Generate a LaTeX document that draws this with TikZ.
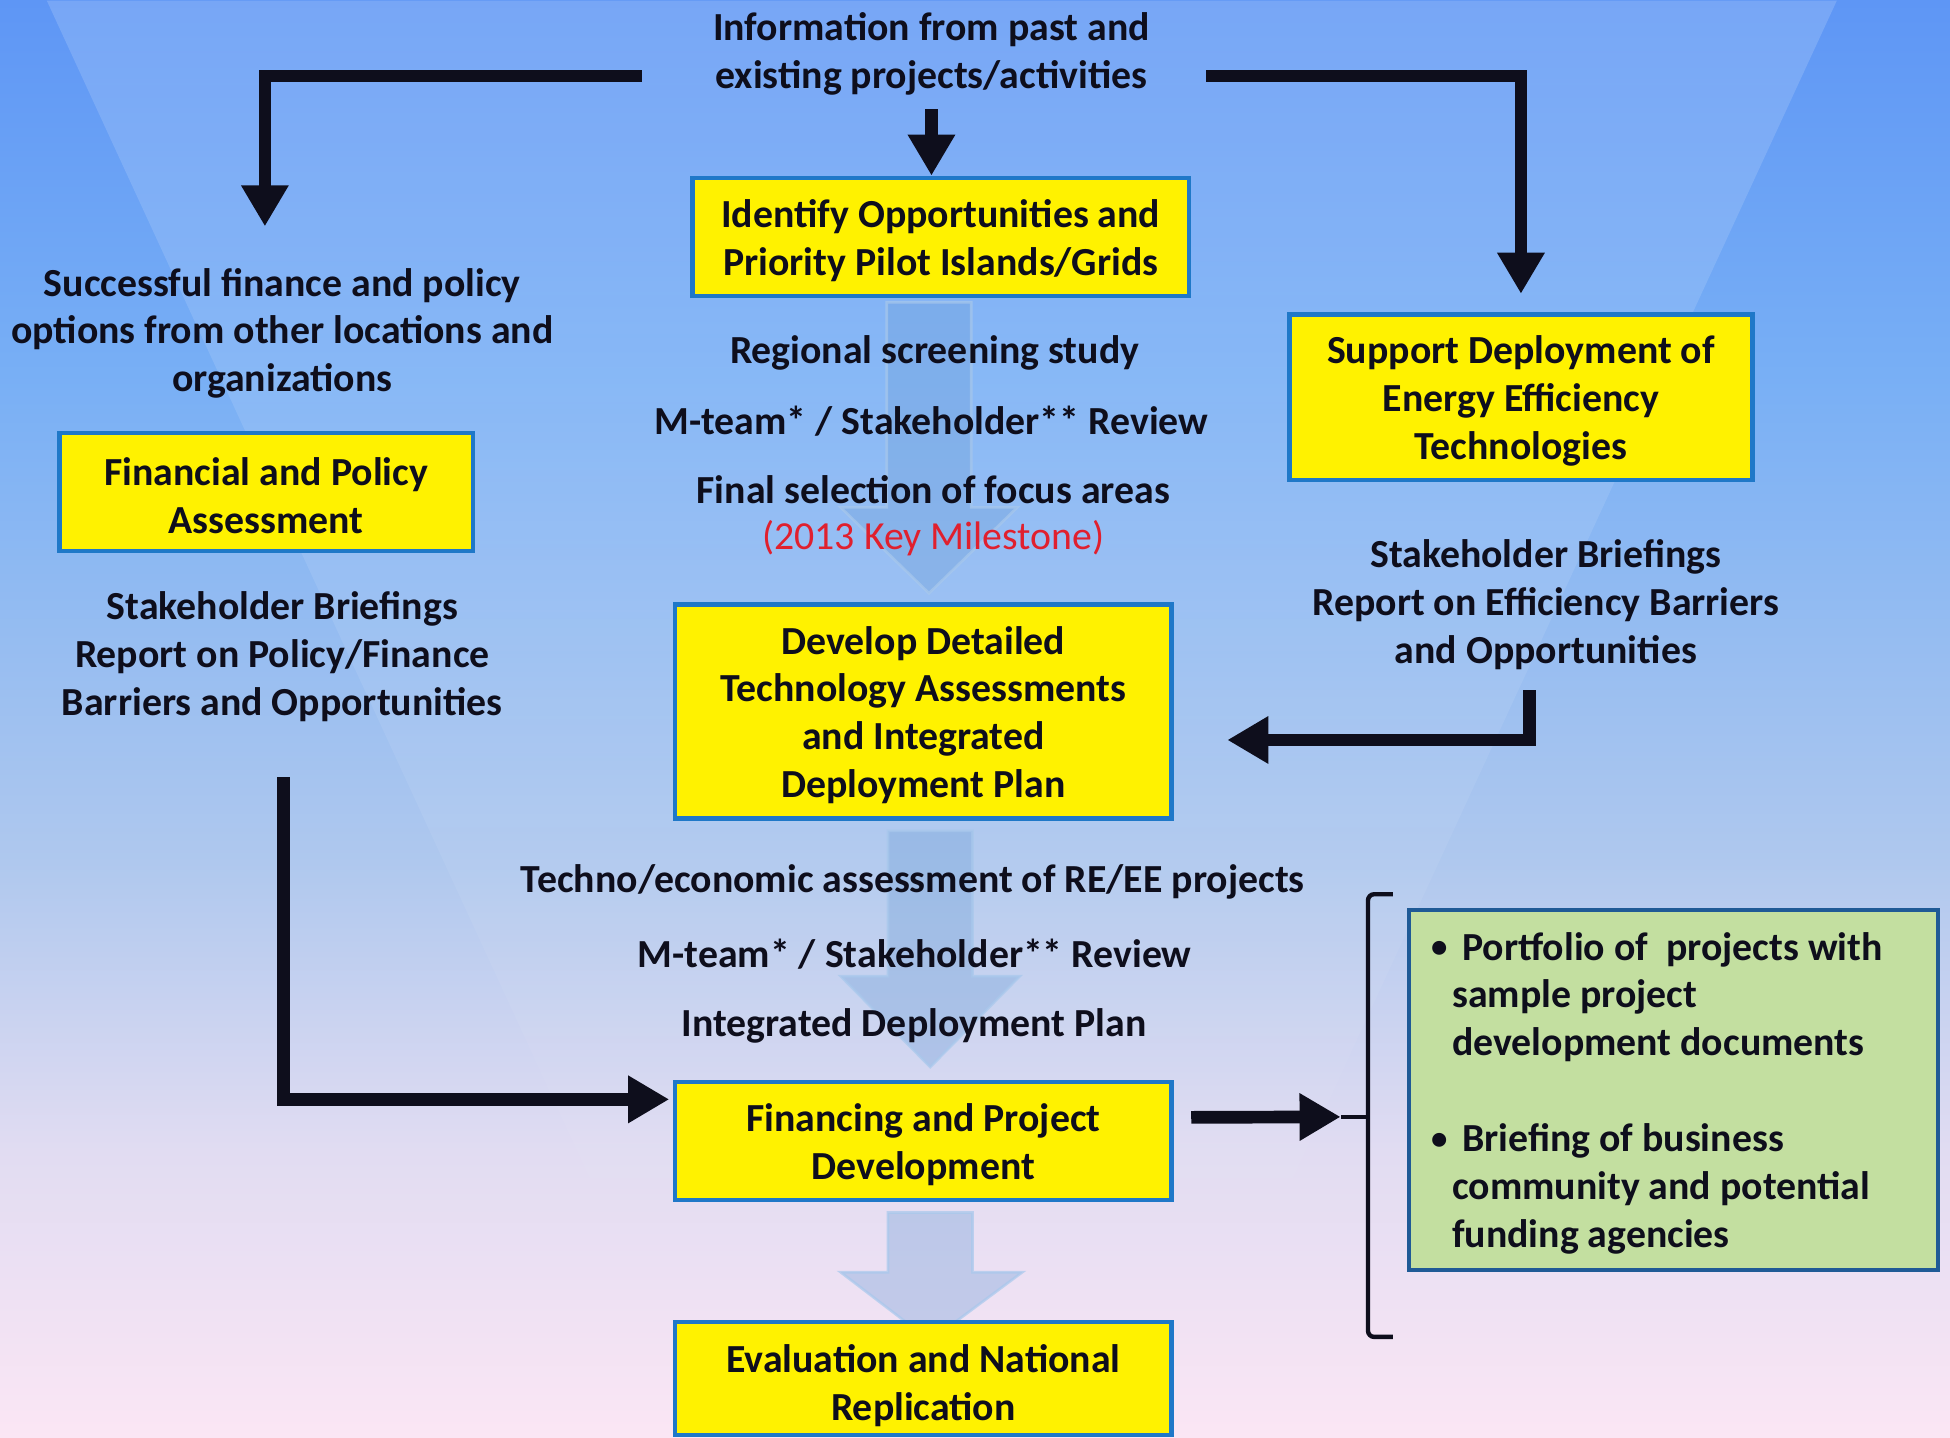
\documentclass[tikz,border=0pt]{standalone}
\usepackage{fontspec}
\setmainfont{Carlito}
\usetikzlibrary{arrows.meta,fadings}
\definecolor{ink}{HTML}{0E0E1C}
\definecolor{boxblue}{HTML}{1F78C8}
\definecolor{greenfill}{HTML}{C3DFA0}
\definecolor{greenedge}{HTML}{1F5A96}
\definecolor{milered}{HTML}{E0202E}
\definecolor{bgtop}{HTML}{5E96F5}
\definecolor{bgu}{HTML}{78AFF5}
\definecolor{bgm}{HTML}{AFC8EE}
\definecolor{bgl}{HTML}{E1DCF2}
\definecolor{bgbot}{HTML}{FBE6F4}
\definecolor{flowfill}{HTML}{6E9FD8}
\definecolor{flowedge}{HTML}{A8C8EC}
\pgfdeclareverticalshading{bgshade}{100bp}{color(0bp)=(bgbot); color(25bp)=(bgbot); color(35bp)=(bgl); color(45bp)=(bgm); color(62bp)=(bgu); color(75bp)=(bgtop); color(100bp)=(bgtop)}
\begin{document}
\begin{tikzpicture}[x=0.01cm, y=-0.01cm,
  fnt/.style={font=\fontsize{9.1}{10.95}\selectfont\bfseries},
  txt/.style={fnt, text=ink, align=center, inner sep=0pt, yshift=-0.03cm},
  ybox/.style={draw=boxblue, line width=1pt, fill=yellow, inner sep=0pt},
  conn/.style={draw=ink, line width=2.9pt, -{Triangle[width=0.36cm,length=0.33cm]}},
  flow/.style={fill=flowfill, fill opacity=0.35, draw=flowedge, draw opacity=0.7, line width=0.6pt}
]
\useasboundingbox (0,0) rectangle (1568,1156);
\shade[shading=bgshade] (0,0) rectangle (1568,1156);
\fill[white, fill opacity=0.16, path fading=south] (38,0) -- (1478,0) -- (944,1156) -- (571,1156) -- cycle;

% translucent flow arrows
\path[flow] (713,243) -- (781,243) -- (781,408) -- (818,408) -- (747,477) -- (676,408) -- (713,408) -- cycle;
\path[flow] (714,668) -- (782,668) -- (782,785) -- (820,785) -- (748,858) -- (676,785) -- (714,785) -- cycle;
\path[flow] (714,975) -- (782,975) -- (782,1023) -- (822,1023) -- (748,1078) -- (676,1023) -- (714,1023) -- cycle;

% boxes
\node[ybox, minimum width=3.99cm, minimum height=0.95cm] (idf) at (756.5,190.5) {};
\node[txt] (idft) at (idf) {Identify Opportunities and\\Priority Pilot Islands/Grids};
\node[ybox, minimum width=3.32cm, minimum height=0.95cm] (fpa) at (214,395.5) {};
\node[txt] (fpat) at (fpa) {Financial and Policy\\Assessment};
\node[ybox, minimum width=3.72cm, minimum height=1.33cm] (sde) at (1223,319.5) {};
\node[txt] (sdet) at (sde) {Support Deployment of\\Energy Efficiency\\Technologies};
\node[ybox, minimum width=3.99cm, minimum height=1.72cm] (ddt) at (742.5,572) {};
\node[txt] (ddtt) at (ddt) {Develop Detailed\\Technology Assessments\\and Integrated\\Deployment Plan};
\node[ybox, minimum width=3.99cm, minimum height=0.95cm] (fpd) at (742.5,917.5) {};
\node[txt] (fpdt) at (fpd) {Financing and Project\\Development};
\node[ybox, minimum width=3.99cm, minimum height=0.91cm] (enr) at (742.5,1108.5) {};
\node[txt] (enrt) at (742.5,1111.5) {Evaluation and National\\Replication};
\node[draw=greenedge, line width=1pt, fill=greenfill, minimum width=4.25cm, minimum height=2.89cm, inner sep=0pt] (out) at (1345.5,876.5) {};
\node[txt, align=left, anchor=west] (outtxt) at (1150,876) {\makebox[0.25cm][l]{\raisebox{0.02cm}{\fontsize{7.5}{9}\selectfont •}}Portfolio of\ \ projects with\\\hspace*{0.17cm}sample project\\\hspace*{0.17cm}development documents\\\mbox{}\\\makebox[0.25cm][l]{\raisebox{0.02cm}{\fontsize{7.5}{9}\selectfont •}}Briefing of business\\\hspace*{0.17cm}community and potential\\\hspace*{0.17cm}funding agencies};

% texts
\node[txt] (info) at (749,40) {Information from past and\\existing projects/activities};
\node[txt] (succ) at (227,265) {Successful finance and policy\\options from other locations and\\organizations};
\node[txt] (t1) at (751.5,281) {Regional screening study};
\node[txt] (t2) at (749,336) {M-team* / Stakeholder** Review};
\node[txt] (t3) at (750.5,391) {Final selection of focus areas};
\node[txt, font=\fontsize{9.1}{10.95}\selectfont, text=milered] (t4) at (750.5,430) {(2013 Key Milestone)};
\node[txt] (sb1) at (227,525) {Stakeholder Briefings\\Report on Policy/Finance\\Barriers and Opportunities};
\node[txt] (sb2) at (1243,483) {Stakeholder Briefings\\Report on Efficiency Barriers\\and Opportunities};
\node[txt] (t5) at (734,706) {Techno/economic assessment of RE/EE projects};
\node[txt] (t6) at (735.5,764) {M-team* / Stakeholder** Review};
\node[txt] (t7) at (735,822) {Integrated Deployment Plan};

% connector coordinates
\coordinate (c0) at (749,88);
\coordinate (l0) at (516,61);
\coordinate (ltip) at (213,182);
\coordinate (r0) at (970,61);
\coordinate (r1) at (1230,555);
\coordinate (r1b) at (1230,595);
\coordinate (l1) at (228,625);
\coordinate (bk) at (1100,898);
\coordinate (bkt) at (1120,719);
\coordinate (bkb) at (1120,1075);

% black connectors
\draw[conn] (c0) -- (c0 |- idf.north);
\draw[conn, line join=miter] (l0) -| (ltip);
\draw[conn, line join=miter, shorten >=0.15cm] (r0) -| (sde.north);
\draw[conn, line join=miter, shorten >=0.43cm] (r1) -- (r1b) -- (r1b -| ddt.east);
\draw[conn, line join=miter, shorten >=0.03cm] (l1) |- ([yshift=0.335cm]fpd.west);
\draw[conn, shorten <=0.14cm, shorten >=0.22cm] ([yshift=0.19cm]fpd.east) -- (bk);
\draw[draw=ink, line width=1pt, rounded corners=0.05cm] (bkt) -- (bkt -| bk) -- (bkb -| bk) -- (bkb);
\draw[draw=ink, line width=1pt] (bk) -- ++(-22,0);
\end{tikzpicture}
\end{document}
